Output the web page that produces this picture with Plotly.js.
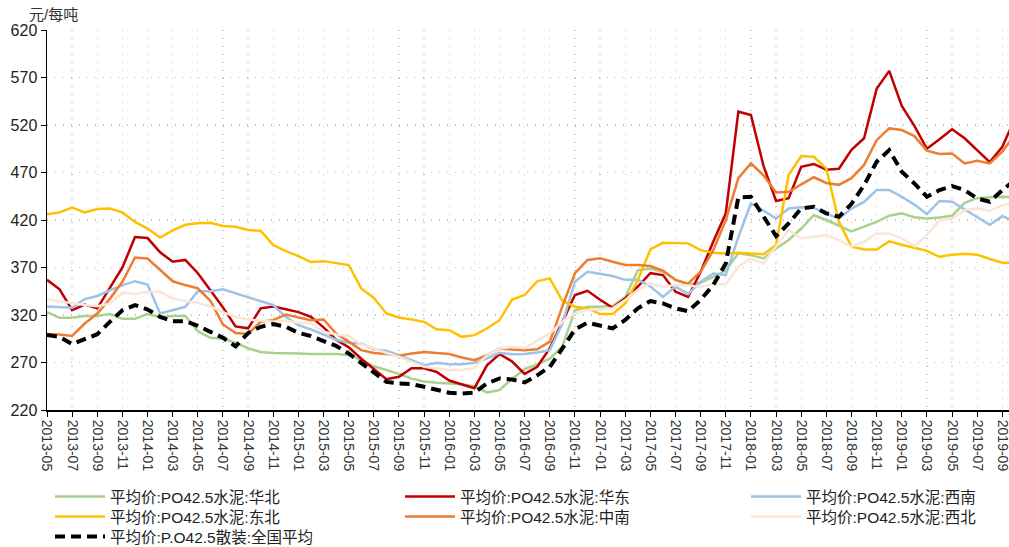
<!DOCTYPE html>
<html>
<head>
<meta charset="utf-8">
<script src="https://cdn.plot.ly/plotly-3.0.1.min.js"></script>
<style>html,body{margin:0;padding:0;background:#fff;}#chart{width:1009px;height:547px;}</style>
</head>
<body>
<div id="chart"></div>
<script>
const months = ["2013-05","2013-06","2013-07","2013-08","2013-09","2013-10","2013-11","2013-12",
"2014-01","2014-02","2014-03","2014-04","2014-05","2014-06","2014-07","2014-08","2014-09","2014-10","2014-11","2014-12",
"2015-01","2015-02","2015-03","2015-04","2015-05","2015-06","2015-07","2015-08","2015-09","2015-10","2015-11","2015-12",
"2016-01","2016-02","2016-03","2016-04","2016-05","2016-06","2016-07","2016-08","2016-09","2016-10","2016-11","2016-12",
"2017-01","2017-02","2017-03","2017-04","2017-05","2017-06","2017-07","2017-08","2017-09","2017-10","2017-11","2017-12",
"2018-01","2018-02","2018-03","2018-04","2018-05","2018-06","2018-07","2018-08","2018-09","2018-10","2018-11","2018-12",
"2019-01","2019-02","2019-03","2019-04","2019-05","2019-06","2019-07","2019-08","2019-09","2019-10"];

const huabei = [323,317,317,319,319,321,316,316,321,318,
319,319,303,296,295,291,285,281,280,280,
279.5,279,279,279,278,272.5,266,262,258,253,
250,248.6,248,247,245,238.5,241,253,263,268,
274,287,325,328.7,328.7,329.4,339,367,369,365.5,
357,352,354,360,367,385,383,379.5,390,399,
411,425,420,414,408,413,418,424.5,427,423,
421.6,422.7,424.5,438,443,444,444.5,444];

const huadong = [357,347,325,331,327,348,370,402,401,386,
376,378,364,346,328,308,306,327,329,326,
323,318,307,294,286,274,263,252.5,255,264,
264,260,251,247,243,267,279,271,258,265.5,
285,313,341,345.5,336,327.6,337.5,350,364,362,
344.5,339,365.5,397,427,534,530.5,477,440,443,
476,479,473,474,494,506,558,577,540,519,
495,505,515.5,506,493,481,497,527];

const xinan = [329,328,327.6,336.7,340,346,351.4,355.6,352,321.6,
325,328.6,345,345,347,342.7,339,334,330.4,318,
309.3,304.8,299.5,294,290.7,290,284,282.3,277.7,272.5,
267.2,269.7,268.2,268.2,269.7,274.2,280.2,278.8,279,280.5,
283,311,355,365.5,363,361,357,357,350,339,
350,342,355,363.7,362,402,437.5,430,421.5,432.2,
433.5,433,426.5,421.7,432,439,451.5,451.5,444.5,436.2,
426.2,440,439.2,431.3,423.4,415,424,418];

const dongbei = [426,428,433,428,431.5,432,428,418,411,401.6,
409,415,416.7,417,413.6,412.9,409.4,408.6,393.6,387.2,
382,375.7,376.7,374.2,372.5,348,338,321.6,317.4,315.3,
312.8,305,304,297,298.8,305.8,314.6,336.3,341,355.5,
358.6,335,328.7,327,321,321,332.2,356.8,389,396,
396,395.4,388.3,385.5,384.8,385.5,384.8,384,393.6,467.3,
487.3,486.6,474,418,392,389,389,397.5,394,391,
387.5,381.3,383.5,384.5,383.5,379,375,375];

const zhongnan = [300,299.5,298,311,321.5,337,355,380.5,379.5,368,
355.5,351.5,348,335,310,301,300,313,314.6,320.5,
317.4,314.6,315.3,300.5,292,283,280,279,277,279.5,
281,280,279,275.3,272.5,277.7,284.7,283.7,283,284,
292,329,364,378,379.6,376,372.6,372.6,371.5,366.6,
357,353,365.5,388,420,464,479.6,467,449,449.7,
457,465,459,457,464,478,504,516.4,514.7,508.3,
493,489.4,490,479.6,482.4,479.6,492,510];

const xibei = [336.7,334.6,332,330.4,329.3,332,343.4,342,344.4,344.4,
337.4,334.6,332.8,329,323,318,315.3,314,312.8,314,
311.8,311,302.3,299.5,297.7,289,285,280,276,270.7,
265.4,263.7,262,262,264.4,277.7,284.7,286.5,285,293,
300.6,312.9,321.7,325.2,325.9,327,335.7,346.3,353.3,349.8,
351.5,351,349.7,352.5,352.5,370.8,379.5,374.3,392.5,409.4,
400.6,402.4,404.1,398.8,392,397,405.9,405.9,400.6,392.5,
404.1,419.9,421.6,430.4,432.2,429.7,435.7,439];

const quanguo = [299,297,289.3,294.2,299.8,312.8,325,330.4,325.8,318,
313.5,313.5,308.6,302.3,296,287,301,307.6,310.4,307.6,
301.2,297.7,292.8,287.5,279.5,269.5,259,249.6,247.9,247.2,
244.4,240.9,238.1,237.4,238.4,247.9,253.2,252.1,249,256.5,
265.5,284.8,304.8,311.9,309.4,305.9,314.7,327,334.7,332.2,
327,324,336,351.5,374.3,443.8,444.5,423.4,403,416.4,
432.2,434,427,423.4,437,456.7,481.3,493.6,470.8,458.5,
444.5,451.5,455.7,451.5,442.7,439.2,451.5,462];

const seriesNames = ["平均价:PO42.5水泥:华北","平均价:PO42.5水泥:华东","平均价:PO42.5水泥:西南",
"平均价:PO42.5水泥:东北","平均价:PO42.5水泥:中南","平均价:PO42.5水泥:西北","平均价:P.O42.5散装:全国平均"];
const seriesData = [huabei, huadong, xinan, dongbei, zhongnan, xibei, quanguo];
const seriesColors = ["#a9d18e","#c00000","#9dc3e6","#ffc000","#ed7d31","#fbe5d6","#000000"];

const FONT = "'Liberation Sans', Arial, 'Noto Sans CJK SC', sans-serif";

// legend slot positions (column left px, row top px) — one legend per item
const colPx = [50, 400, 746];
const rowPx = [480, 500, 520];

const layout = {
  width: 1009, height: 547,
  margin: {l: 47, r: 0, t: 30, b: 137, pad: 0, autoexpand: false},
  paper_bgcolor: '#fff', plot_bgcolor: '#fff',
  font: {family: FONT, color: '#333'},
  showlegend: true,
  xaxis: {
    type: 'category', range: [0, 76.53], tickmode: 'linear', tick0: 0, dtick: 2,
    tickangle: 90, ticks: 'outside', ticklen: 5, tickcolor: '#000', tickwidth: 1,
    showline: true, linecolor: '#000', linewidth: 2,
    showgrid: true, gridcolor: '#c4c4c4', gridwidth: 1.3, griddash: '1.3px,6.7px',
    zeroline: false, tickfont: {family: FONT, size: 14, color: '#333'}
  },
  yaxis: {
    range: [220, 620], tickmode: 'linear', tick0: 220, dtick: 50,
    ticks: 'outside', ticklen: 5, tickcolor: '#000', tickwidth: 1,
    showline: true, linecolor: '#000', linewidth: 1.5,
    showgrid: true, gridcolor: '#c4c4c4', gridwidth: 1.3, griddash: '1.3px,6.7px',
    zeroline: false, tickfont: {family: FONT, size: 16, color: '#222'}
  },
  annotations: [{
    text: '元/每吨', xref: 'paper', yref: 'paper', x: -0.021, y: 1.042,
    xanchor: 'left', yanchor: 'middle', showarrow: false,
    font: {family: FONT, size: 15, color: '#333'}
  }]
};

const traces = seriesData.map((d, i) => {
  const id = i === 0 ? 'legend' : 'legend' + (i + 1);
  const col = i % 3, row = Math.floor(i / 3);
  layout[id] = {
    orientation: 'v', x: (colPx[col] - 47) / 962, xanchor: 'left',
    y: -(rowPx[row] - 410) / 380, yanchor: 'top',
    itemwidth: 50, font: {family: FONT, size: 15.5, color: '#222'}, bgcolor: 'rgba(0,0,0,0)'
  };
  return {
    type: 'scatter', mode: 'lines', x: months, y: d, name: seriesNames[i], legend: id,
    line: i === 6 ? {color: seriesColors[i], width: 4, dash: '10px,6px'} : {color: seriesColors[i], width: 2.5},
    hoverinfo: 'skip'
  };
});

Plotly.newPlot('chart', traces, layout, {displayModeBar: false, staticPlot: true});
</script>
</body>
</html>
